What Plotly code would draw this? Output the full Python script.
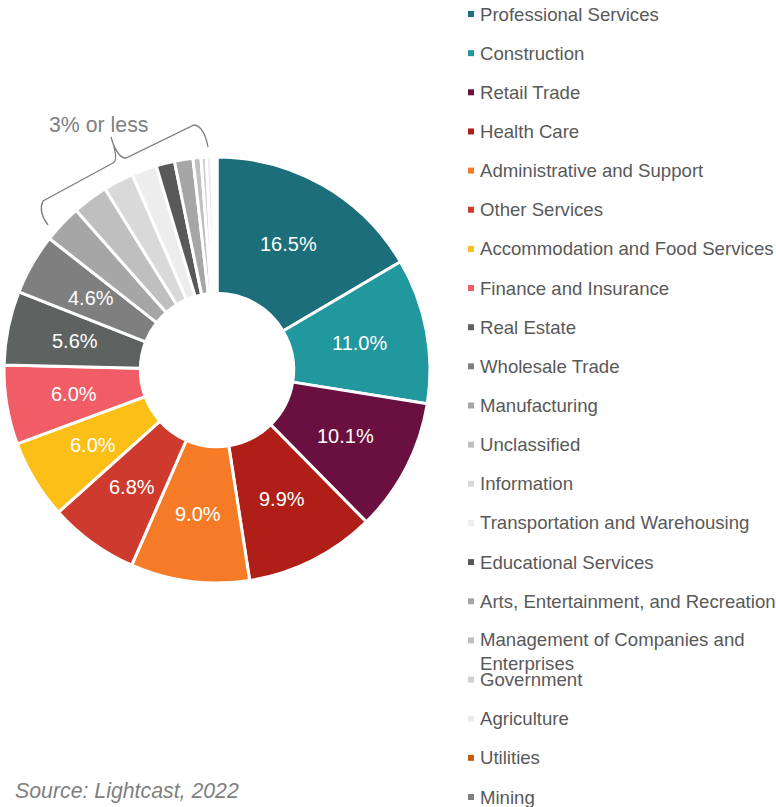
import math
import plotly.graph_objects as go

W, H = 776, 807

categories = [
    "Professional Services", "Construction", "Retail Trade", "Health Care",
    "Administrative and Support", "Other Services", "Accommodation and Food Services",
    "Finance and Insurance", "Real Estate", "Wholesale Trade", "Manufacturing",
    "Unclassified", "Information", "Transportation and Warehousing",
    "Educational Services", "Arts, Entertainment, and Recreation",
    "Management of Companies and Enterprises", "Government", "Agriculture",
    "Utilities", "Mining",
]
shares = [16.5, 11.0, 10.1, 9.9, 9.0, 6.8, 6.0, 6.0, 5.6, 4.6,
          2.9, 2.7, 2.3, 1.9, 1.4, 1.4, 0.6, 0.4, 0.4, 0.2, 0.2]
colors = ["#1C6E7A", "#21979E", "#6A1040", "#AF1F18", "#F57B27", "#CF3A2E",
          "#FCBF18", "#F15D66", "#5E6361", "#7F7F7F", "#A6A6A6", "#BFBFBF",
          "#D9D9D9", "#EDEDED", "#595959", "#A6A6A6", "#BFBFBF", "#D0D0D0",
          "#EAEAEA", "#C55A11", "#7F7F7F"]
legend_labels = [c if c != "Management of Companies and Enterprises"
                 else "Management of Companies and<br>Enterprises" for c in categories]

slice_text = [f"{v:.1f}%" if v > 3 else "" for v in shares]

def px(x):
    return x / W

def py(y):
    return 1 - y / H

# pie geometry (pixels)
PIE_L, PIE_R, PIE_T, PIE_B = 4, 430, 157, 583
HOLE = 0.36
cx, cy = (PIE_L + PIE_R) / 2, (PIE_T + PIE_B) / 2
r_out = min(PIE_R - PIE_L, PIE_B - PIE_T) / 2
r_mid = r_out * (1 + HOLE) / 2

fig = go.Figure()
fig.add_trace(go.Pie(
    labels=categories, values=shares,
    textinfo="none",
    marker=dict(colors=colors, line=dict(color="white", width=3)),
    sort=False, direction="clockwise", rotation=0, hole=HOLE,
    domain=dict(x=[px(PIE_L), px(PIE_R)], y=[py(PIE_B), py(PIE_T)]),
    showlegend=False, hoverinfo="label+percent",
))

annotations = []
# slice labels at the mid-radius of each slice, computed from the shares
total = sum(shares)
cum = 0.0
for v, t in zip(shares, slice_text):
    mid = (cum + v / 2) / total * 2 * math.pi
    cum += v
    if not t:
        continue
    lx = cx + r_mid * math.sin(mid)
    ly = cy - r_mid * math.cos(mid)
    annotations.append(dict(x=px(lx), y=py(ly), xref="paper", yref="paper",
                            text=t, showarrow=False, xanchor="center", yanchor="middle",
                            font=dict(family="Liberation Sans, Arial", size=20, color="white")))

font_gray = "#595959"
shapes = []
y0, step = 14.0, 39.15
for i, (lab, col) in enumerate(zip(legend_labels, colors)):
    yc = y0 + i * step
    shapes.append(dict(type="rect", xref="paper", yref="paper",
                       x0=px(468), x1=px(474), y0=py(yc + 3), y1=py(yc - 3),
                       fillcolor=col, line=dict(width=0)))
    if "<br>" in lab:
        annotations.append(dict(x=px(477.5), y=py(yc - 13.5), xref="paper", yref="paper",
                                text=lab, showarrow=False, xanchor="left", yanchor="top",
                                align="left",
                                font=dict(family="Liberation Sans, Arial", size=18.6, color=font_gray)))
    else:
        annotations.append(dict(x=px(477.5), y=py(yc), xref="paper", yref="paper",
                                text=lab, showarrow=False, xanchor="left", yanchor="middle",
                                font=dict(family="Liberation Sans, Arial", size=18.6, color=font_gray)))

annotations.append(dict(x=px(98), y=py(125), xref="paper", yref="paper",
                        text="3% or less", showarrow=False, xanchor="center", yanchor="middle",
                        font=dict(family="Liberation Sans, Arial", size=21.3, color="#7F7F7F")))
annotations.append(dict(x=px(13), y=py(791), xref="paper", yref="paper",
                        text="<i>Source: Lightcast, 2022</i>", showarrow=False,
                        xanchor="left", yanchor="middle",
                        font=dict(family="Liberation Sans, Arial", size=21.3, color="#7F7F7F")))

pts = [("M", 48, 225), ("Q", 38, 212, 43, 201), ("L", 113, 163), ("Q", 119, 160, 111, 137),
       ("Q", 117, 158, 126, 158), ("L", 194, 125), ("Q", 204, 126, 208, 147)]
path = ""
for p in pts:
    cmd = p[0]
    coords = p[1:]
    parts = []
    for j in range(0, len(coords), 2):
        parts.append(f"{px(coords[j]):.5f},{py(coords[j+1]):.5f}")
    path += cmd + " " + " ".join(parts) + " "
shapes.append(dict(type="path", xref="paper", yref="paper", path=path.strip(),
                   line=dict(color="#7F7F7F", width=1.3)))

fig.update_layout(
    width=W, height=H,
    margin=dict(l=0, r=0, t=0, b=0),
    paper_bgcolor="white", plot_bgcolor="white",
    annotations=annotations, shapes=shapes,
)
fig.write_html("out.html", config={"displayModeBar": False},
               post_script="document.body.style.margin='0px';document.body.style.padding='0px';")
